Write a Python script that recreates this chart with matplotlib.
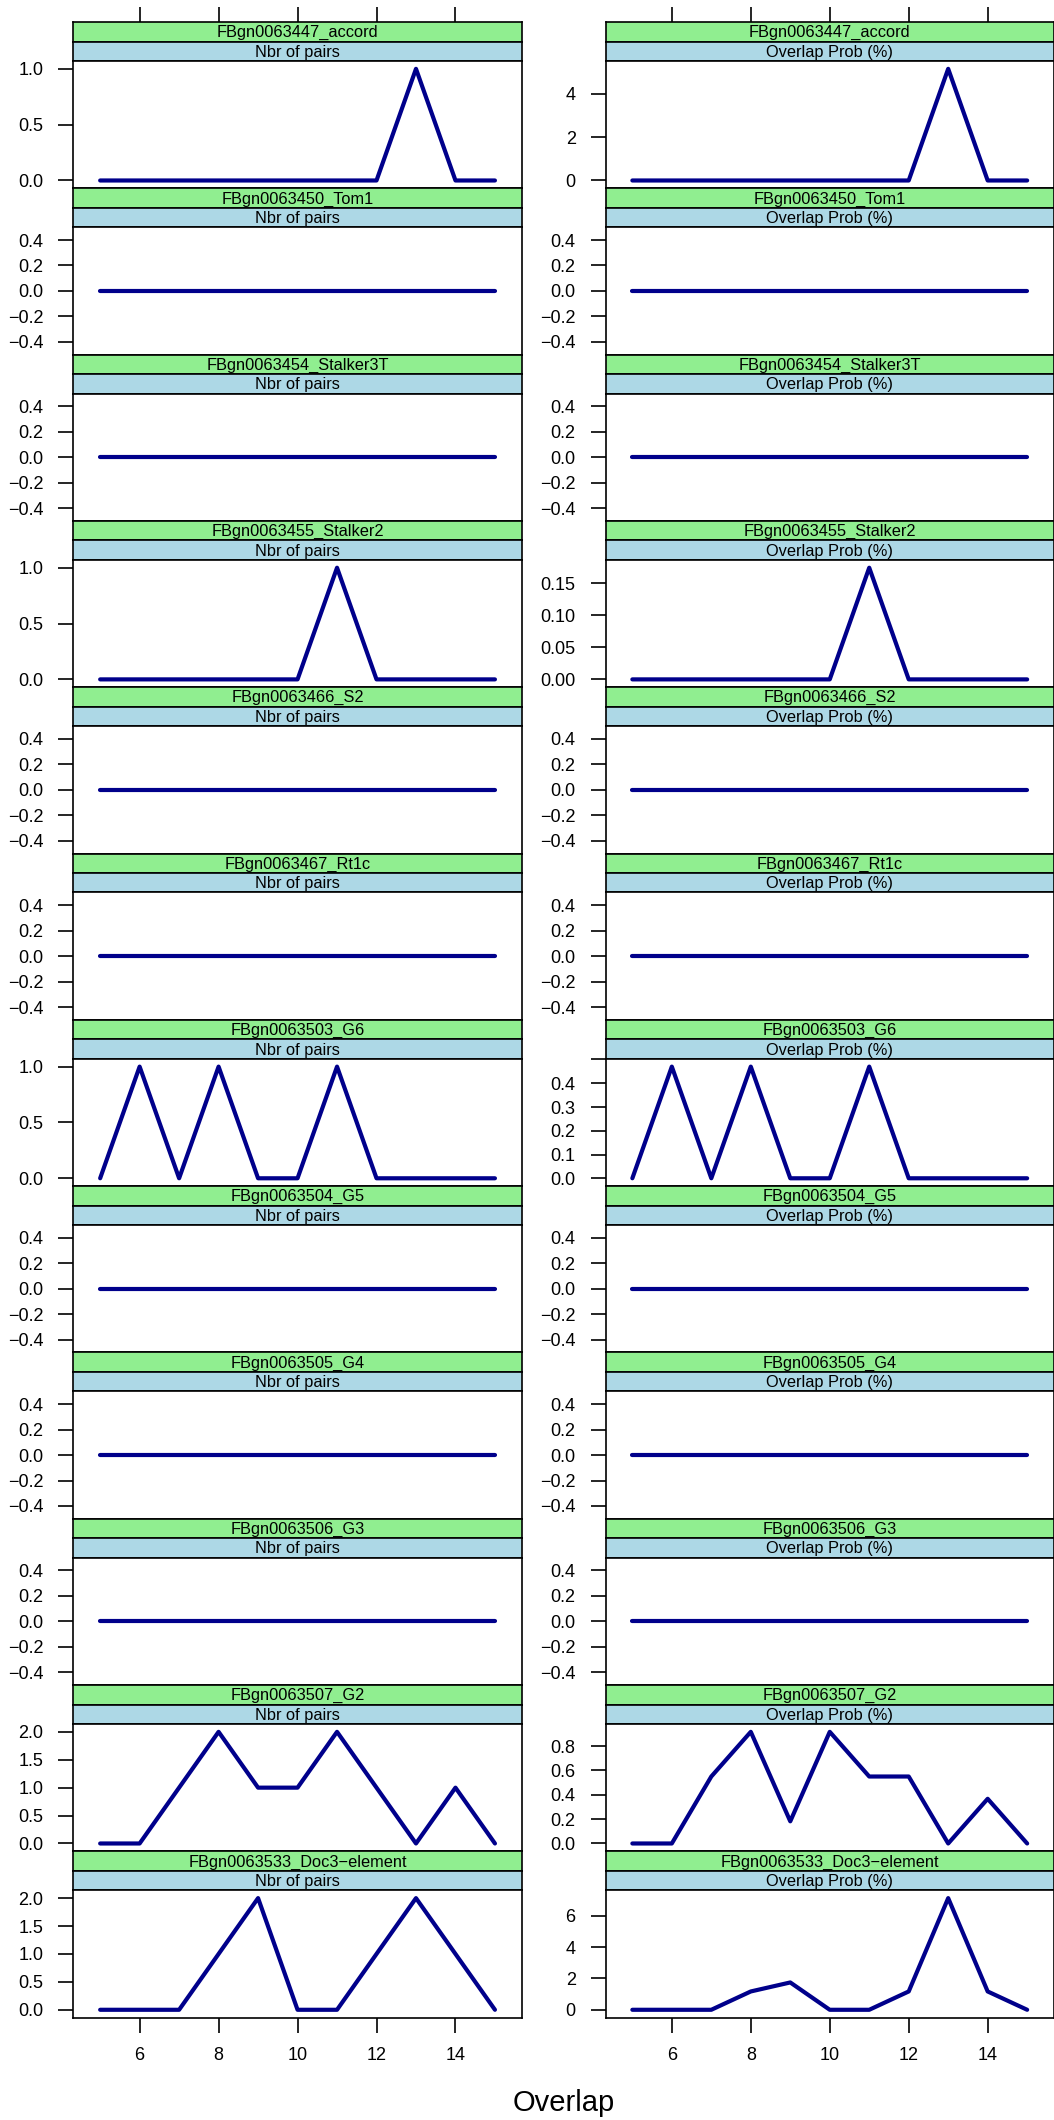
import matplotlib
matplotlib.use("Agg")
import matplotlib.pyplot as plt

plt.rcParams['font.family'] = ['Liberation Sans', 'DejaVu Sans']

# Data
genes = ['FBgn0063447_accord', 'FBgn0063450_Tom1', 'FBgn0063454_Stalker3T',
         'FBgn0063455_Stalker2', 'FBgn0063466_S2', 'FBgn0063467_Rt1c',
         'FBgn0063503_G6', 'FBgn0063504_G5', 'FBgn0063505_G4',
         'FBgn0063506_G3', 'FBgn0063507_G2', 'FBgn0063533_Doc3\u2212element']
overlap = [5, 6, 7, 8, 9, 10, 11, 12, 13, 14, 15]

nbr_pairs = [
    [0, 0, 0, 0, 0, 0, 0, 0, 1, 0, 0],
    [0, 0, 0, 0, 0, 0, 0, 0, 0, 0, 0],
    [0, 0, 0, 0, 0, 0, 0, 0, 0, 0, 0],
    [0, 0, 0, 0, 0, 0, 1, 0, 0, 0, 0],
    [0, 0, 0, 0, 0, 0, 0, 0, 0, 0, 0],
    [0, 0, 0, 0, 0, 0, 0, 0, 0, 0, 0],
    [0, 1, 0, 1, 0, 0, 1, 0, 0, 0, 0],
    [0, 0, 0, 0, 0, 0, 0, 0, 0, 0, 0],
    [0, 0, 0, 0, 0, 0, 0, 0, 0, 0, 0],
    [0, 0, 0, 0, 0, 0, 0, 0, 0, 0, 0],
    [0, 0, 1, 2, 1, 1, 2, 1, 0, 1, 0],
    [0, 0, 0, 1, 2, 0, 0, 1, 2, 1, 0],
]
overlap_prob = [
    [0, 0, 0, 0, 0, 0, 0, 0, 5.14, 0, 0],
    [0, 0, 0, 0, 0, 0, 0, 0, 0, 0, 0],
    [0, 0, 0, 0, 0, 0, 0, 0, 0, 0, 0],
    [0, 0, 0, 0, 0, 0, 0.1745, 0, 0, 0, 0],
    [0, 0, 0, 0, 0, 0, 0, 0, 0, 0, 0],
    [0, 0, 0, 0, 0, 0, 0, 0, 0, 0, 0],
    [0, 0.47, 0, 0.47, 0, 0, 0.47, 0, 0, 0, 0],
    [0, 0, 0, 0, 0, 0, 0, 0, 0, 0, 0],
    [0, 0, 0, 0, 0, 0, 0, 0, 0, 0, 0],
    [0, 0, 0, 0, 0, 0, 0, 0, 0, 0, 0],
    [0, 0, 0.55, 0.917, 0.182, 0.917, 0.55, 0.55, 0, 0.367, 0],
    [0, 0, 0, 1.17, 1.745, 0, 0, 1.17, 7.13, 1.17, 0],
]

zero_ticks = [-0.4, -0.2, 0.0, 0.2, 0.4]
pairs_ticks = [[0, 0.5, 1], zero_ticks, zero_ticks, [0, 0.5, 1], zero_ticks,
               zero_ticks, [0, 0.5, 1], zero_ticks, zero_ticks, zero_ticks,
               [0, 0.5, 1, 1.5, 2], [0, 0.5, 1, 1.5, 2]]
prob_ticks = [[0, 2, 4], zero_ticks, zero_ticks, [0, 0.05, 0.1, 0.15],
              zero_ticks, zero_ticks, [0, 0.1, 0.2, 0.3, 0.4, 0.5],
              zero_ticks, zero_ticks, zero_ticks, [0, 0.2, 0.4, 0.6, 0.8],
              [0, 2, 4, 6]]
pairs_dec = [1] * 12
prob_dec = [0, 1, 1, 2, 1, 1, 1, 1, 1, 1, 1, 0]
x_ticks = [6, 8, 10, 12, 14]

columns = [('Nbr of pairs', nbr_pairs, pairs_ticks, pairs_dec),
           ('Overlap Prob (%)', overlap_prob, prob_ticks, prob_dec)]

# layout in pixels
W, H = 1054, 2120
fig = plt.figure(figsize=(W / 100, H / 100), dpi=100)
col_x = [73.3, 605.5]
pw = 448.5
row_top = 22
row_h = 166.3
strip_h = 19.5
lw_box = 1.2

def box(x, y, w, h):
    return [x / W, 1 - (y + h) / H, w / W, h / H]

xlim = (4.32, 15.68)

for j, (sub, data, ticks, decs) in enumerate(columns):
    for i, g in enumerate(genes):
        top = row_top + i * row_h
        x0 = col_x[j]
        # strips
        for k, (txt, col) in enumerate([(g, '#90EE90'), (sub, '#ADD8E6')]):
            sa = fig.add_axes(box(x0, top + k * strip_h, pw, strip_h))
            sa.set_facecolor(col)
            sa.set_xlim(xlim)
            sa.set_ylim(0, 1)
            sa.set_yticks([])
            for s in sa.spines.values():
                s.set_linewidth(lw_box)
            sa.text(0.5, 0.45, txt, transform=sa.transAxes, ha='center',
                    va='center', fontsize=11.8)
            if i == 0 and k == 0:
                sa.xaxis.tick_top()
                sa.set_xticks(x_ticks)
                sa.tick_params(axis='x', length=11, width=1.2, labeltop=False)
            else:
                sa.set_xticks([])
        # panel
        ax = fig.add_axes(box(x0, top + 2 * strip_h, pw,
                              row_h - 2 * strip_h))
        y = data[i]
        ax.plot(overlap, y, color='#00008B', lw=3,
                solid_capstyle='round', solid_joinstyle='round')
        ax.set_xlim(xlim)
        lo, hi = min(y), max(y)
        if hi == lo:
            ax.set_ylim(lo - 0.5, hi + 0.5)
        else:
            pad = 0.07 * (hi - lo)
            ax.set_ylim(lo - pad, hi + pad)
        tk = ticks[i]
        labels = []
        for t in tk:
            if hi > lo and t > hi:
                labels.append('')
            else:
                labels.append(f"{t:.{decs[i]}f}".replace('-', '\u2212'))
        ax.set_yticks(tk)
        ax.set_yticklabels(labels)
        ax.tick_params(axis='y', length=11, width=1.2, pad=10.5,
                       labelsize=13)
        if i == len(genes) - 1:
            ax.set_xticks(x_ticks)
            ax.tick_params(axis='x', length=11, width=1.2, pad=10,
                           labelsize=13)
        else:
            ax.set_xticks([])
        for s in ax.spines.values():
            s.set_linewidth(lw_box)

fig.text((col_x[0] + col_x[1] + pw) / 2 / W, 1 - 2111 / H, 'Overlap',
         ha='center', va='baseline', fontsize=21)

fig.savefig('out.png', dpi=100)
